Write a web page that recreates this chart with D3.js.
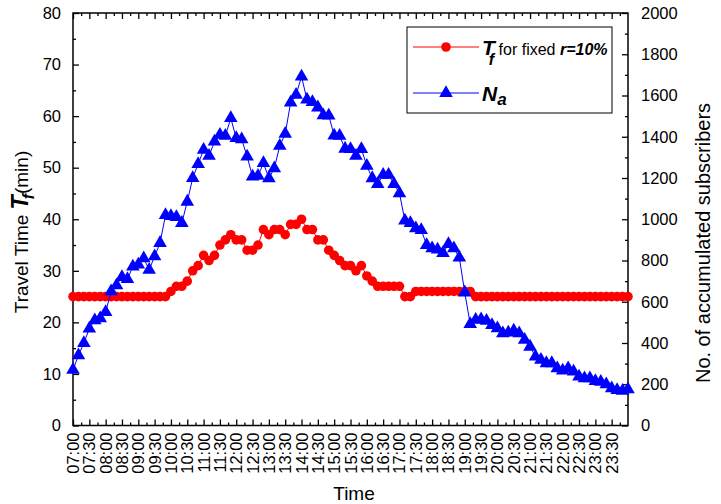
<!DOCTYPE html>
<html lang="en">
<head>
  <meta charset="UTF-8" />
  <title>Travel time and subscribers</title>
  <script src="https://cdnjs.cloudflare.com/ajax/libs/d3/7.8.5/d3.min.js"></script>
  <style>
    body {
      margin: 0;
      background: #fff;
      font-family: "Liberation Sans", Arial, sans-serif;
    }
    svg {
      display: block;
    }
  </style>
</head>
<body>
  <svg id="chart" width="721" height="504"></svg>

  <script>
    // samples every 10 minutes from 07:00 to 24:00 (minutes since midnight)
    const times = d3.range(420, 1441, 10);

    // travel time T_f (min) for fixed r = 10%
    const travelTime = [
      25, 25, 25, 25, 25, 25, 25, 25, 25, 25, 25, 25, 25, 25, 25, 25, 25, 25,
      26, 27, 27, 28, 30, 31, 33, 32, 33, 35, 36, 37, 36, 36, 34, 34, 35, 38,
      37, 38, 38, 37, 39, 39, 40, 38, 38, 36, 36, 34, 33, 32, 31, 31, 30, 31,
      29, 28, 27, 27, 27, 27, 27, 25, 25, 26, 26, 26, 26, 26, 26, 26, 26, 26,
      26, 26, 25, 25, 25, 25, 25, 25, 25, 25, 25, 25, 25, 25, 25, 25, 25, 25,
      25, 25, 25, 25, 25, 25, 25, 25, 25, 25, 25, 25, 25
    ];

    // accumulated subscribers N_a
    const subscribers = [
      270, 340, 400, 470, 510, 520, 550, 650, 680, 720, 710, 770, 780, 810,
      755, 820, 885, 1020, 1015, 1010, 982, 1085, 1200, 1268, 1336, 1307,
      1376, 1409, 1404, 1490, 1393, 1388, 1304, 1207, 1210, 1272, 1199, 1247,
      1356, 1414, 1566, 1603, 1692, 1580, 1568, 1542, 1504, 1503, 1406, 1404,
      1342, 1340, 1308, 1340, 1259, 1199, 1171, 1215, 1215, 1171, 1126, 993,
      981, 956, 948, 875, 859, 853, 836, 880, 859, 814, 645, 492, 512, 515,
      508, 487, 471, 447, 450, 460, 447, 415, 382, 334, 318, 302, 302, 277,
      266, 277, 261, 237, 229, 229, 215, 212, 200, 180, 172, 168, 175
    ];

    const tickLabels = [
      "07:00", "07:30", "08:00", "08:30", "09:00", "09:30", "10:00", "10:30",
      "11:00", "11:30", "12:00", "12:30", "13:00", "13:30", "14:00", "14:30",
      "15:00", "15:30", "16:00", "16:30", "17:00", "17:30", "18:00", "18:30",
      "19:00", "19:30", "20:00", "20:30", "21:00", "21:30", "22:00", "22:30",
      "23:00", "23:30"
    ];

    const margin = { left: 73, right: 93, top: 13, bottom: 78.5 };
    const W = 721, H = 504;

    const svg = d3.select("#chart");
    const x = d3.scaleLinear().domain([420, 1440]).range([margin.left, W - margin.right]);
    const yL = d3.scaleLinear().domain([0, 80]).range([H - margin.bottom, margin.top]);
    const yR = d3.scaleLinear().domain([0, 2000]).range([H - margin.bottom, margin.top]);

    const x0 = margin.left, x1 = W - margin.right;
    const y0 = H - margin.bottom, y1 = margin.top;
    const FONT = "Liberation Sans, Arial, sans-serif";

    // ticks (pointing inward, like Origin)
    const tickValues = tickLabels.map((_, i) => 420 + i * 30);
    const minorX = d3.range(435, 1440, 30);

    function ticksOnly(g) {
      g.select(".domain").remove();
      g.selectAll("line").attr("stroke", "#000").attr("stroke-width", 1.3);
    }

    // bottom + top axes
    svg.append("g").attr("transform", `translate(0,${y0})`)
      .call(d3.axisBottom(x).tickValues(tickValues).tickSize(-6).tickFormat("")).call(ticksOnly);
    svg.append("g").attr("transform", `translate(0,${y0})`)
      .call(d3.axisBottom(x).tickValues(minorX).tickSize(-3).tickFormat("")).call(ticksOnly);
    svg.append("g").attr("transform", `translate(0,${y1})`)
      .call(d3.axisTop(x).tickValues(tickValues).tickSize(-6).tickFormat("")).call(ticksOnly);
    svg.append("g").attr("transform", `translate(0,${y1})`)
      .call(d3.axisTop(x).tickValues(minorX).tickSize(-3).tickFormat("")).call(ticksOnly);

    // x tick labels, rotated
    svg.append("g").selectAll("text")
      .data(tickValues)
      .join("text")
      .attr("transform", (d) => `translate(${x(d) + 6},${y0 + 7}) rotate(-90)`)
      .attr("text-anchor", "end")
      .attr("font-size", 16.5)
      .text((d, i) => tickLabels[i]);

    // left axis
    svg.append("g").attr("transform", `translate(${x0},0)`)
      .call(d3.axisLeft(yL).tickValues(d3.range(0, 81, 10)).tickSize(-6).tickPadding(12))
      .call(ticksOnly)
      .call(g => g.selectAll("text").attr("font-size", 16.5).attr("font-family", FONT).attr("fill", "#000"));
    svg.append("g").attr("transform", `translate(${x0},0)`)
      .call(d3.axisLeft(yL).tickValues(d3.range(5, 80, 10)).tickSize(-3).tickFormat(""))
      .call(ticksOnly);

    // right axis
    svg.append("g").attr("transform", `translate(${x1},0)`)
      .call(d3.axisRight(yR).tickValues(d3.range(0, 2001, 200)).tickSize(-6).tickPadding(13).tickFormat(d3.format("d")))
      .call(ticksOnly)
      .call(g => g.selectAll("text").attr("font-size", 16.5).attr("font-family", FONT).attr("fill", "#000"));
    svg.append("g").attr("transform", `translate(${x1},0)`)
      .call(d3.axisRight(yR).tickValues(d3.range(100, 2000, 200)).tickSize(-3).tickFormat(""))
      .call(ticksOnly);

    // frame
    svg.append("rect")
      .attr("x", x0).attr("y", y1)
      .attr("width", x1 - x0).attr("height", y0 - y1)
      .attr("fill", "none").attr("stroke", "#000").attr("stroke-width", 1.5);

    const tri = d3.symbol().type(d3.symbolTriangle).size(80);

    // travel time series
    const redPts = times.map((t, i) => [t, travelTime[i]]);
    svg.append("path")
      .datum(redPts)
      .attr("fill", "none").attr("stroke", "#ff0000").attr("stroke-width", 1)
      .attr("d", d3.line().x(d => x(d[0])).y(d => yL(d[1])));
    svg.append("g").selectAll("circle")
      .data(redPts)
      .join("circle")
      .attr("cx", d => x(d[0])).attr("cy", d => yL(d[1]))
      .attr("r", 4.8).attr("fill", "#ff0000");

    // subscribers series
    const bluePts = times.map((t, i) => [t, subscribers[i]]);
    svg.append("path")
      .datum(bluePts)
      .attr("fill", "none").attr("stroke", "#0000ff").attr("stroke-width", 1)
      .attr("d", d3.line().x(d => x(d[0])).y(d => yR(d[1])));
    svg.append("g").selectAll("path")
      .data(bluePts)
      .join("path")
      .attr("transform", d => `translate(${x(d[0])},${yR(d[1])})`)
      .attr("d", tri).attr("fill", "#0000ff");

    // axis titles
    const leftTitle = svg.append("text")
      .attr("transform", "translate(28,232) rotate(-90)")
      .attr("text-anchor", "middle")
      .attr("font-size", 19);
    leftTitle.append("tspan").text("Travel Time ");
    leftTitle.append("tspan").attr("font-weight", "bold").attr("font-style", "italic")
      .attr("font-size", 23).text("T");
    leftTitle.append("tspan").attr("font-weight", "bold").attr("font-style", "italic")
      .attr("font-size", 16).attr("dy", 6).attr("dx", -4).text("f");
    leftTitle.append("tspan").attr("dy", -6).text("(min)");

    svg.append("text")
      .attr("transform", "translate(710,243) rotate(-90)")
      .attr("text-anchor", "middle")
      .attr("font-size", 20)
      .text("No. of accumulated subscribers");

    svg.append("text")
      .attr("x", 354).attr("y", 500)
      .attr("text-anchor", "middle")
      .attr("font-size", 19)
      .text("Time");

    // legend
    const lg = svg.append("g");
    lg.append("rect")
      .attr("x", 407).attr("y", 27).attr("width", 205).attr("height", 86)
      .attr("fill", "#fff").attr("stroke", "#000").attr("stroke-width", 1);
    lg.append("line").attr("x1", 413).attr("x2", 479).attr("y1", 47).attr("y2", 47)
      .attr("stroke", "#ff0000").attr("stroke-width", 1);
    lg.append("circle").attr("cx", 446).attr("cy", 47).attr("r", 4.8).attr("fill", "#ff0000");
    lg.append("line").attr("x1", 413).attr("x2", 479).attr("y1", 93).attr("y2", 93)
      .attr("stroke", "#0000ff").attr("stroke-width", 1);
    lg.append("path").attr("transform", "translate(446,93)").attr("d", tri).attr("fill", "#0000ff");

    const t1 = lg.append("text").attr("x", 482).attr("y", 55).attr("font-size", 16);
    t1.append("tspan").attr("font-weight", "bold").attr("font-style", "italic")
      .attr("font-size", 21).text("T");
    t1.append("tspan").attr("font-weight", "bold").attr("font-style", "italic")
      .attr("font-size", 16).attr("dx", -6).attr("dy", 10).text("f");
    t1.append("tspan").attr("dy", -10).attr("dx", 0).text(" for fixed ");
    t1.append("tspan").attr("font-weight", "bold").attr("font-style", "italic").text("r=10%");

    const t2 = lg.append("text").attr("x", 482).attr("y", 101).attr("font-size", 21)
      .attr("font-weight", "bold").attr("font-style", "italic");
    t2.append("tspan").text("N");
    t2.append("tspan").attr("font-size", 17).attr("dy", 4).text("a");
  </script>
</body>
</html>
